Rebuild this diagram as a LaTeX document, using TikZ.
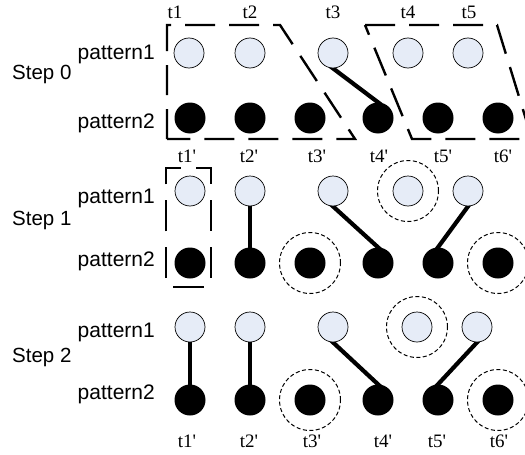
\documentclass[tikz,border=0pt]{standalone}
\usepackage{fontspec}
\setmainfont{Liberation Serif}
\newfontfamily\labelsans{Liberation Sans}
\usetikzlibrary{backgrounds}
\definecolor{paleblue}{RGB}{230,236,247}
% straight prime used in the primed time labels
\newcommand{\tp}[1]{t#1\textquotesingle}
\begin{document}
\begin{tikzpicture}[x=1pt,y=-1pt,
  light/.style={circle,draw=black,line width=0.7pt,fill=paleblue,minimum size=30pt,inner sep=0pt},
  dark/.style={circle,fill=black,minimum size=31pt,inner sep=0pt},
  ring/.style={circle,draw=black,dash pattern=on 4pt off 2.5pt,line width=1pt,minimum size=61pt,inner sep=0pt},
  group/.style={line width=2.4pt,dash pattern=on 30pt off 14pt},
  link/.style={line width=4.2pt,shorten <=-4pt,shorten >=-4pt},
  tlab/.style={font=\fontsize{19}{22}\selectfont,anchor=base,inner sep=0pt},
  rowlab/.style={font=\labelsans\fontsize{21}{24}\selectfont,anchor=base east,inner sep=0pt},
  steplab/.style={font=\labelsans\fontsize{20.5}{24}\selectfont,anchor=base west,inner sep=0pt},
]
\clip (0,0) rectangle (525,455);

% ---------- time labels ----------
\node[tlab] (top1) at (175,18) {t1};
\node[tlab] (top2) at (250,18) {t2};
\node[tlab] (top3) at (333,18) {t3};
\node[tlab] (top4) at (408,18) {t4};
\node[tlab] (top5) at (469,18) {t5};

\node[tlab] (mid1) at (187,162) {\tp{1}};
\node[tlab] (mid2) at (249,162) {\tp{2}};
\node[tlab] (mid3) at (317,162) {\tp{3}};
\node[tlab] (mid4) at (379,162) {\tp{4}};
\node[tlab] (mid5) at (443,162) {\tp{5}};
\node[tlab] (mid6) at (503,162) {\tp{6}};

\node[tlab] (bot1) at (187,447) {\tp{1}};
\node[tlab] (bot2) at (249,447) {\tp{2}};
\node[tlab] (bot3) at (312,447) {\tp{3}};
\node[tlab] (bot4) at (383,447) {\tp{4}};
\node[tlab] (bot5) at (437,447) {\tp{5}};
\node[tlab] (bot6) at (499,447) {\tp{6}};

% ---------- row labels ----------
\node[steplab] (step0) at (12,79) {Step 0};
\node[rowlab] (p0a) at (155,59) {pattern1};
\node[rowlab] (p0b) at (155,128) {pattern2};

\node[steplab] (step1) at (12,225) {Step 1};
\node[rowlab] (p1a) at (155,203) {pattern1};
\node[rowlab] (p1b) at (155,266) {pattern2};

\node[steplab] (step2) at (12,362) {Step 2};
\node[rowlab] (p2a) at (155,337) {pattern1};
\node[rowlab] (p2b) at (155,399) {pattern2};

% ---------- step 0 ----------
\node[light] (a1) at (189,53) {};
\node[light] (a2) at (250,53) {};
\node[light] (a3) at (333,53) {};
\node[light] (a4) at (408,53) {};
\node[light] (a5) at (468,53) {};
\node[dark] (b1) at (190,118) {};
\node[dark] (b2) at (250,118) {};
\node[dark] (b3) at (310,118) {};
\node[dark] (b4) at (378,118) {};
\node[dark] (b5) at (438,118) {};
\node[dark] (b6) at (498,118) {};

\draw[group] (167,139) -- (167,25) -- (280,25) -- (355,139) -- cycle;
\draw[group] (365,25) -- (497,25) -- (532,139) -- (412,139) -- cycle;

% ---------- step 1 ----------
\node[light] (c1) at (190,191) {};
\node[light] (c2) at (250,191) {};
\node[light] (c3) at (333,191) {};
\node[light] (c4) at (408,191) {};
\node[light] (c5) at (468,191) {};
\node[dark] (d1) at (190,263) {};
\node[dark] (d2) at (250,263) {};
\node[dark] (d3) at (310,263) {};
\node[dark] (d4) at (378,263) {};
\node[dark] (d5) at (438,263) {};
\node[dark] (d6) at (498,263) {};

\node[ring] (rc4) at (c4.center) {};
\node[ring] (rd3) at (d3.center) {};
\node[ring] (rd6) at (d6.center) {};

% box around t1', started at the middle of its lower side
\draw[group,dash pattern=on 31pt off 15.86pt,dash phase=15.5pt]
  (188.5,287) -- (166,287) -- (166,168) -- (211,168) -- (211,287) -- cycle;

% ---------- step 2 ----------
\node[light] (e1) at (190,327) {};
\node[light] (e2) at (250,327) {};
\node[light] (e3) at (333,327) {};
\node[light] (e4) at (417,327) {};
\node[light] (e5) at (477,327) {};
\node[dark] (f1) at (190,400) {};
\node[dark] (f2) at (250,400) {};
\node[dark] (f3) at (310,400) {};
\node[dark] (f4) at (378,400) {};
\node[dark] (f5) at (438,400) {};
\node[dark] (f6) at (498,400) {};

\node[ring] (re4) at (e4.center) {};
\node[ring] (rf3) at (f3.center) {};
\node[ring] (rf6) at (f6.center) {};

% ---------- links between the two patterns ----------
\begin{pgfonlayer}{background}
  \draw[link] (a3.south) -- (b4.north);
  \draw[link] (c2.south) -- (d2.north);
  \draw[link] (c3.south) -- (d4.north);
  \draw[link] (c5.south) -- (d5.north);
  \draw[link] (e1.south) -- (f1.north);
  \draw[link] (e2.south) -- (f2.north);
  \draw[link] (e3.south) -- (f4.north);
  \draw[link] (e5.south) -- (f5.north);
\end{pgfonlayer}
\end{tikzpicture}
\end{document}
